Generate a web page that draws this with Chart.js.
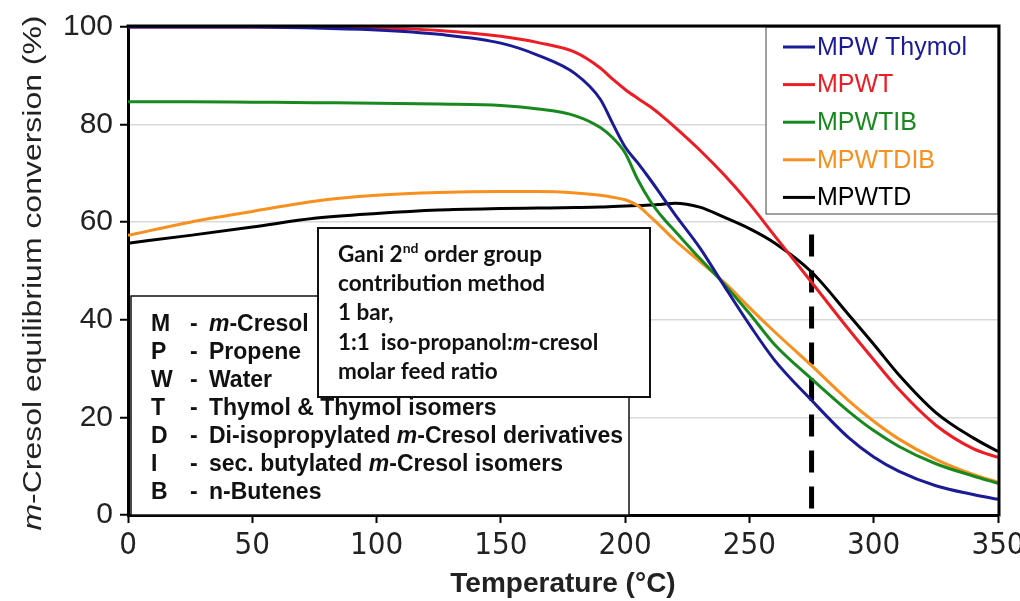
<!DOCTYPE html>
<html>
<head>
<meta charset="utf-8">
<script src="https://cdn.jsdelivr.net/npm/chart.js@4.4.1/dist/chart.umd.min.js"></script>
<style>
  html, body { margin: 0; padding: 0; background: #fff; }
  #wrap { width: 1020px; height: 601px; }
</style>
</head>
<body>
<div id="wrap"><canvas id="eqChart" width="1020" height="601"></canvas></div>
<script>
// temperature grid (°C) shared by every series
const temps = [0, 25, 50, 75, 100, 125, 150, 165, 180, 190, 195, 200, 205, 210, 215, 220, 230, 240, 250, 260, 275, 290, 300, 310, 325, 340, 350];

// m-cresol equilibrium conversion (%) per reaction system
const mpwThymol = [100, 100, 100, 99.8, 99.4, 98.5, 96.7, 94.2, 90.4, 85.2, 80.2, 75.4, 72.2, 68.8, 65.2, 61.6, 54.8, 46.8, 39, 31.8, 23.5, 15.8, 11.9, 9, 6, 4.2, 3.2];
const mpwt      = [100, 100, 100, 100, 99.8, 99.3, 98.1, 96.8, 94.8, 91.6, 89.3, 87.2, 85.4, 83.7, 81.7, 79.5, 74.8, 69.6, 63.8, 57.3, 47.7, 38, 31.8, 25.8, 18.4, 13.6, 11.8];
const mpwtib    = [84.7, 84.7, 84.6, 84.5, 84.4, 84.2, 83.9, 83.2, 81.8, 79.4, 77.3, 74.2, 68.8, 64.4, 61, 58.2, 52.6, 47.2, 41.3, 35, 27.9, 21.2, 17.3, 14.1, 10.5, 8, 6.5];
const mpwtdib   = [57.3, 60, 62.2, 64.3, 65.5, 66.1, 66.3, 66.3, 66, 65.5, 65.1, 64.6, 63.4, 61.2, 58.8, 56.3, 52, 47.6, 42.5, 37.6, 30.6, 23.4, 19.2, 15.6, 11.4, 8.3, 6.7];
const mpwtd     = [55.7, 57.3, 59, 60.8, 61.8, 62.5, 62.8, 62.9, 63, 63.1, 63.2, 63.3, 63.4, 63.5, 63.7, 63.9, 63.1, 61, 58.7, 55.8, 49.8, 41, 35, 28.8, 21, 15.8, 13];

const seriesNames  = ['MPW Thymol', 'MPWT', 'MPWTIB', 'MPWTDIB', 'MPWTD'];
const seriesColors = ['#1b1b96', '#ee1c24', '#18891e', '#f7901e', '#000000'];

// reference temperature marker
const markerTemp = 275;
const markerRange = [57.5, 0];

// axis ticks
const xTicks = [0, 50, 100, 150, 200, 250, 300, 350];
const yTicks = [0, 20, 40, 60, 80, 100];

// key for the abbreviations in the system names
const keyLetters = ['M', 'P', 'W', 'T', 'D', 'I', 'B'];
const keyTexts = [
  [['m', 'i'], ['-Cresol', '']],
  [['Propene', '']],
  [['Water', '']],
  [['Thymol & Thymol isomers', '']],
  [['Di-isopropylated ', ''], ['m', 'i'], ['-Cresol derivatives', '']],
  [['sec. butylated ', ''], ['m', 'i'], ['-Cresol isomers', '']],
  [['n-Butenes', '']]
];
const noteLines = [
  [['Gani 2', ''], ['nd', 'sup'], [' order group', '']],
  [['contribution method', '']],
  [['1 bar,', '']],
  [['1:1  iso-propanol:', ''], ['m', 'i'], ['-cresol', '']],
  [['molar feed ratio', '']]
];

const SANS = "'Liberation Sans', Arial, sans-serif";
const NARROW = "'Liberation Sans Narrow', 'DejaVu Sans Condensed', 'Liberation Sans', sans-serif";
const NOTE = "Lato, Carlito, 'Open Sans', sans-serif";

const lineSets = seriesNames.map((name, i) => {
  const vals = [mpwThymol, mpwt, mpwtib, mpwtdib, mpwtd][i];
  return {
    label: name,
    data: temps.map((t, k) => ({ x: t, y: vals[k] })),
    borderColor: seriesColors[i],
    borderWidth: 3,
    pointRadius: 0,
    cubicInterpolationMode: 'monotone',
    fill: false
  };
});

lineSets.push({
  label: 'marker',
  data: markerRange.map(v => ({ x: markerTemp, y: v })),
  borderColor: '#000',
  borderWidth: 5,
  borderDash: [22, 14],
  pointRadius: 0,
  fill: false
});

// draws a run of text pieces: '' normal, 'i' italic, 'sup' superscript
function drawRich(ctx, x, y, parts, size, family, weight) {
  let cx = x;
  parts.forEach(([text, style]) => {
    let sz = size, dy = 0, it = '';
    if (style === 'sup') { sz = Math.round(size * 0.6); dy = -size * 0.4; }
    if (style === 'i') it = 'italic ';
    ctx.font = `${it}${weight} ${sz}px ${family}`;
    ctx.fillText(text, cx, y + dy);
    cx += ctx.measureText(text).width;
  });
}

function box(ctx, x1, y1, x2, y2, lw, color) {
  ctx.fillStyle = '#fff';
  ctx.fillRect(x1, y1, x2 - x1, y2 - y1);
  ctx.strokeStyle = color;
  ctx.lineWidth = lw;
  ctx.strokeRect(x1, y1, x2 - x1, y2 - y1);
}

const overlayPlugin = {
  id: 'overlay',
  afterDatasetsDraw(chart) {
    const ctx = chart.ctx;
    const a = chart.chartArea;
    ctx.save();

    // abbreviation key
    box(ctx, 131, 296, 629, a.bottom, 1.5, '#111');
    ctx.fillStyle = '#111';
    ctx.textBaseline = 'alphabetic';
    keyLetters.forEach((l, i) => {
      const y = 331 + i * 28;
      ctx.font = `bold 23px ${SANS}`;
      ctx.fillText(l, 151, y);
      ctx.fillText('-', 190, y);
      drawRich(ctx, 209, y, keyTexts[i], 23, SANS, 'bold');
    });

    // method note
    box(ctx, 318, 228, 650, 397, 2, '#111');
    ctx.fillStyle = '#111';
    noteLines.forEach((parts, i) => {
      drawRich(ctx, 338, 262 + i * 29.2, parts, 22.5, NOTE, 'bold');
    });

    // legend
    box(ctx, 766, a.top, a.right, 214, 1, '#444');
    chart.data.datasets.slice(0, seriesNames.length).forEach((ds, i) => {
      const y = 47 + i * 37.6;
      ctx.strokeStyle = ds.borderColor;
      ctx.lineWidth = 3;
      ctx.beginPath();
      ctx.moveTo(783, y);
      ctx.lineTo(815, y);
      ctx.stroke();
      ctx.fillStyle = ds.borderColor;
      ctx.font = `25px ${SANS}`;
      ctx.textBaseline = 'middle';
      ctx.fillText(ds.label, 817, y + 1);
    });

    // frame on top and right
    ctx.strokeStyle = '#000';
    ctx.lineWidth = 3;
    ctx.beginPath();
    ctx.moveTo(a.left - 1.5, a.top - 1);
    ctx.lineTo(a.right + 1, a.top - 1);
    ctx.lineTo(a.right + 1, a.bottom + 1.5);
    ctx.stroke();

    // y axis title, stretched along its length
    ctx.translate(34, 273);
    ctx.rotate(-Math.PI / 2);
    ctx.fillStyle = '#222';
    ctx.textBaseline = 'middle';
    const parts = [['m', 'italic '], ['-Cresol equilibrium conversion (%)', '']];
    let w = 0;
    parts.forEach(([t, s]) => { ctx.font = `${s}26px ${SANS}`; w += ctx.measureText(t).width; });
    ctx.scale(515 / w, 1);
    let cx = -w / 2;
    parts.forEach(([t, s]) => {
      ctx.font = `${s}26px ${SANS}`;
      ctx.fillText(t, cx, 0);
      cx += ctx.measureText(t).width;
    });
    ctx.restore();
  }
};

new Chart(document.getElementById('eqChart'), {
  type: 'line',
  data: { datasets: lineSets },
  options: {
    responsive: false,
    devicePixelRatio: 1,
    animation: false,
    layout: { padding: { top: 27, right: 22, left: 0, bottom: 0 } },
    plugins: { legend: { display: false }, tooltip: { enabled: false } },
    scales: {
      x: {
        type: 'linear',
        min: 0,
        max: 350,
        afterBuildTicks: s => { s.ticks = xTicks.map(v => ({ value: v })); },
        afterFit: s => { s.height = 86; s.paddingLeft = 0; s.paddingRight = 0; },
        grid: { drawOnChartArea: false, tickLength: 8, tickColor: '#000', tickWidth: 2 },
        border: { color: '#000', width: 3 },
        ticks: { color: '#222', padding: 4, maxRotation: 0, font: { family: NARROW, size: 31 } },
        title: {
          display: true,
          text: 'Temperature (°C)',
          color: '#222',
          font: { family: SANS, size: 28, weight: 'bold' },
          padding: { top: 0, bottom: 0 }
        }
      },
      y: {
        min: 0,
        max: 100,
        afterBuildTicks: s => { s.ticks = yTicks.map(v => ({ value: v })); },
        afterFit: s => { s.width = 128; s.paddingTop = 0; s.paddingBottom = 0; },
        grid: { color: '#d9d9d9', lineWidth: 1.5, tickLength: 8, tickColor: '#000', tickWidth: 2 },
        border: { color: '#000', width: 3 },
        ticks: { color: '#222', padding: 7, font: { family: SANS, size: 30 } }
      }
    }
  },
  plugins: [overlayPlugin]
});
</script>
</body>
</html>
